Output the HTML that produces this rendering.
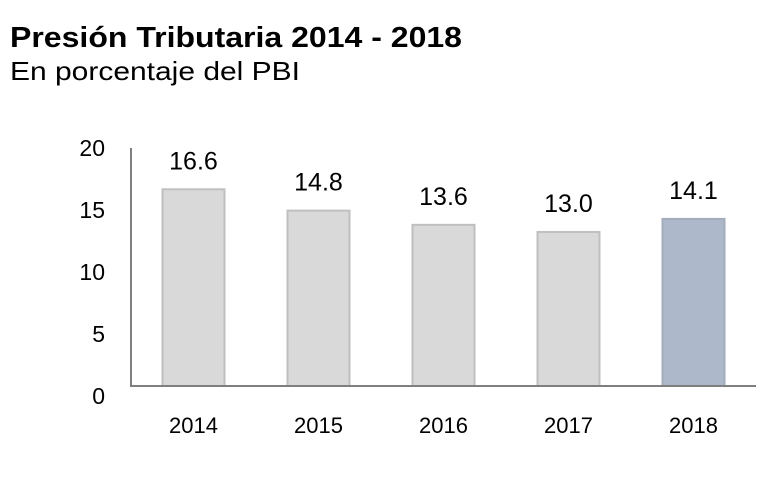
<!DOCTYPE html>
<html><head><meta charset="utf-8"><style>
body{margin:0;background:#fff;width:777px;height:474px;overflow:hidden;font-family:"Liberation Sans",Arial,sans-serif}
</style></head><body>
<svg width="777" height="474" font-family="Liberation Sans, Arial, sans-serif">
<text x="10" y="47" font-size="29" font-weight="bold" fill="#000" textLength="452" lengthAdjust="spacingAndGlyphs">Presión Tributaria 2014 - 2018</text>
<text x="10" y="80" font-size="26" fill="#000" textLength="290" lengthAdjust="spacingAndGlyphs">En porcentaje del PBI</text>
<g id="plot"></g>
</svg>
<script>
const categories=["2014","2015","2016","2017","2018"];
const values=[16.6,14.8,13.6,13.0,14.1];
const valueLabels=["16.6","14.8","13.6","13.0","14.1"];
const yTicks=[0,5,10,15,20];
const ns="http://www.w3.org/2000/svg";
const g=document.getElementById("plot");
const x0=131,x1=756,yBase=386,yTop=149,ymax=20;
const y=v=>yBase-(v/ymax)*(yBase-yTop);
const bw=(x1-x0)/categories.length;
const xc=i=>x0+bw*(i+0.5);
function mk(t,a){const e=document.createElementNS(ns,t);for(const k in a)e.setAttribute(k,a[k]);g.appendChild(e);return e;}
yTicks.forEach(v=>{
 const t=mk("text",{x:105,y:148+(ymax-v)/5*62+8,"font-size":23,"text-anchor":"end",fill:"#000"});
 t.textContent=v;
 
 
});
categories.forEach((c,i)=>{
 const h=yBase-y(values[i]);
 const last=i===categories.length-1;
 const r=mk("rect",{x:xc(i)-31,y:y(values[i]),width:62,height:h,fill:last?"#adb9ca":"#d9d9d9",stroke:last?"#a3acbb":"#bfbfbf","stroke-width":2});
 
 
 const l=mk("text",{x:xc(i),y:y(values[i])-20,"font-size":25,"text-anchor":"middle",fill:"#000"});
 l.textContent=valueLabels[i];
 
 
 const xl=mk("text",{x:xc(i),y:433,"font-size":22,"text-anchor":"middle",fill:"#000"});
 xl.textContent=c;
 
 
});
const ya=mk("line",{x1:x0,y1:yTop-1,x2:x0,y2:yBase,stroke:"#7f7f7f","stroke-width":2});


const xa=mk("line",{x1:x0-1,y1:yBase,x2:x1,y2:yBase,stroke:"#7f7f7f","stroke-width":2});


</script>
</body></html>
